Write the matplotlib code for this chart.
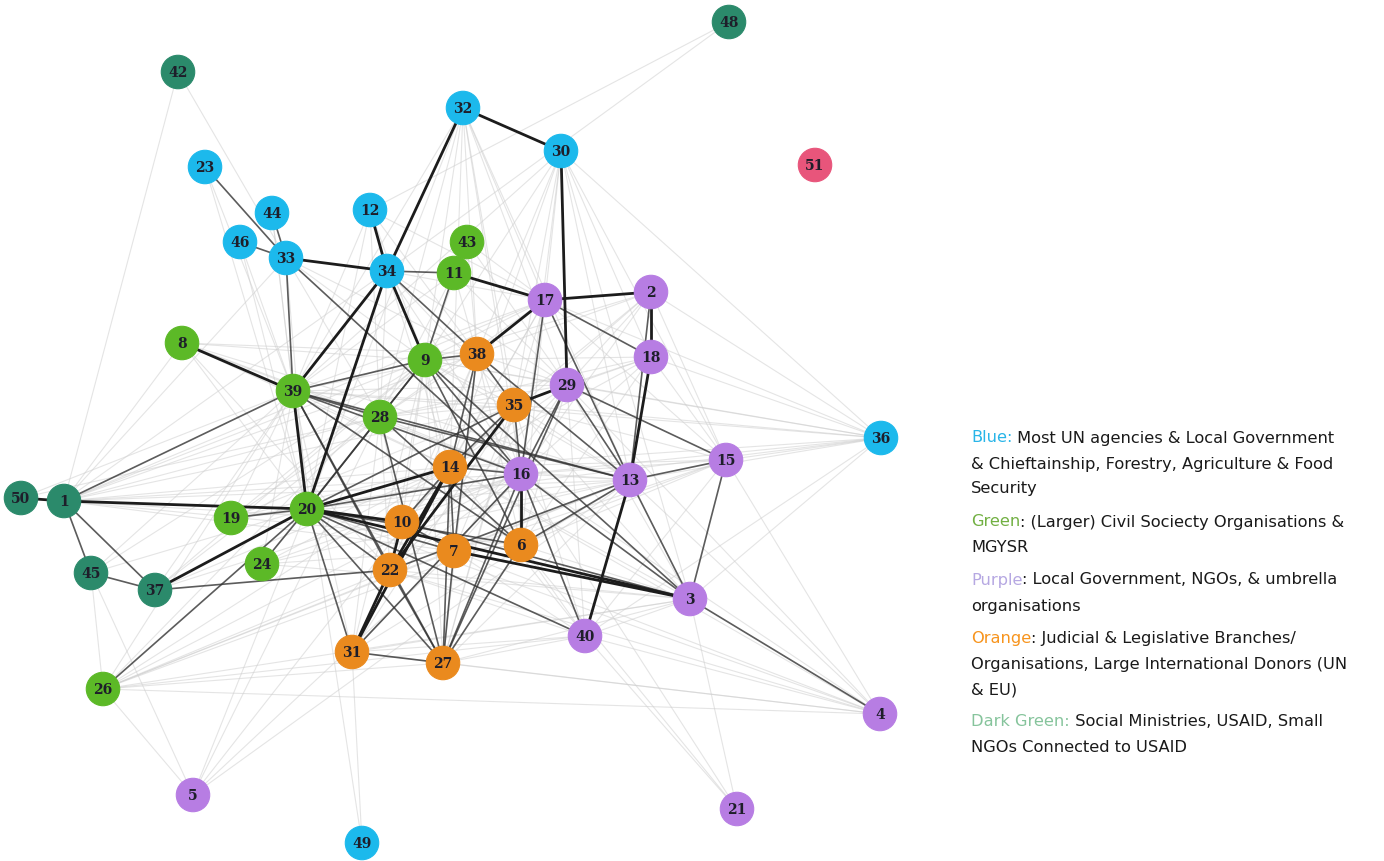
import matplotlib
matplotlib.use("Agg")
import matplotlib.pyplot as plt

# node data (pixel layout of the network drawing)
node_ids = [1, 2, 3, 4, 5, 6, 7, 8, 9, 10, 11, 12, 13, 14, 15, 16, 17, 18, 19, 20,
            21, 22, 23, 24, 26, 27, 28, 29, 30, 31, 32, 33, 34, 35, 36, 37, 38, 39,
            40, 42, 43, 44, 45, 46, 48, 49, 50, 51]
node_x = [64, 651, 690, 880, 193, 521, 454, 182, 425, 402, 454, 370, 630, 450, 726, 521, 545, 651, 231, 307,
          737, 390, 205, 262, 103, 443, 380, 567, 561, 352, 463, 286, 387, 514, 881, 155, 477, 293,
          585, 178, 467, 272, 91, 240, 729, 362, 21, 815]
node_y = [501, 292, 599, 714, 795, 545, 551, 343, 360, 522, 273, 210, 480, 467, 460, 474, 300, 357, 518, 509,
          809, 570, 167, 564, 689, 663, 417, 385, 151, 652, 108, 258, 271, 405, 438, 590, 354, 391,
          636, 72, 242, 213, 573, 242, 22, 843, 498, 165]
node_group = ["dkgreen", "purple", "purple", "purple", "purple", "orange", "orange", "green", "green", "orange",
              "green", "blue", "purple", "orange", "purple", "purple", "purple", "purple", "green", "green",
              "purple", "orange", "blue", "green", "green", "orange", "green", "purple", "blue", "orange",
              "blue", "blue", "blue", "orange", "blue", "dkgreen", "orange", "green",
              "purple", "dkgreen", "green", "blue", "dkgreen", "blue", "dkgreen", "blue", "dkgreen", "red"]

strong_edges = [(50, 1), (1, 20), (37, 20), (39, 20), (8, 39), (39, 34), (20, 34), (33, 34), (34, 12),
                (34, 32), (34, 9), (32, 30), (30, 29), (17, 2), (17, 38), (11, 17), (29, 35), (2, 18),
                (18, 13), (14, 22), (20, 14), (20, 10), (7, 3), (20, 3), (16, 6), (13, 40), (35, 22),
                (10, 22), (22, 31), (14, 31)]

mid_edges = [(1, 45), (1, 37), (45, 37), (1, 39), (37, 22), (26, 20), (24, 20), (19, 20), (39, 33),
             (33, 23), (33, 44), (33, 46), (33, 16), (34, 11), (34, 38), (11, 43), (11, 9), (17, 18),
             (17, 16), (17, 13), (2, 13), (29, 15), (29, 16), (29, 13), (35, 38), (35, 16), (35, 14),
             (15, 13), (15, 3), (13, 3), (13, 6), (28, 13), (16, 40), (16, 3), (16, 27), (14, 10),
             (14, 27), (14, 7), (9, 28), (9, 38), (9, 16), (9, 6), (10, 7), (22, 27), (7, 27),
             (31, 27), (3, 4), (20, 28), (20, 7), (20, 6), (20, 31), (20, 27), (20, 22), (20, 40),
             (20, 35), (39, 22), (39, 27), (39, 16), (39, 6), (39, 13), (38, 14), (38, 7), (28, 27),
             (13, 22), (16, 31), (10, 3), (20, 16), (39, 9), (39, 28), (6, 27), (29, 27), (9, 3),
             (38, 13), (28, 6), (20, 9), (14, 16)]

light_edges = [(42, 1), (42, 33), (48, 12), (48, 34),
               (36, 2), (36, 17), (36, 18), (36, 29), (36, 15), (36, 13), (36, 16), (36, 35),
               (36, 9), (36, 14), (36, 3), (36, 40), (36, 20), (36, 39),
               (4, 26), (4, 31), (4, 27), (4, 22), (4, 7), (4, 40), (4, 16), (4, 13), (4, 15),
               (4, 29), (4, 20), (4, 14),
               (21, 3), (21, 40), (21, 16), (21, 6),
               (5, 26), (5, 45), (5, 20), (5, 7), (5, 13), (5, 28), (5, 14),
               (49, 39), (49, 31),
               (26, 39), (26, 9), (26, 14), (26, 16), (26, 13), (26, 3), (26, 40), (26, 27),
               (26, 22), (26, 7), (26, 45), (26, 15),
               (1, 8), (1, 33), (1, 9), (1, 28), (1, 14), (1, 16), (1, 13), (1, 35), (1, 38),
               (1, 17), (1, 34), (1, 10), (1, 7), (1, 6), (50, 39), (50, 28),
               (45, 39), (45, 20), (45, 9), (37, 39), (37, 28), (37, 14), (37, 9), (37, 16),
               (8, 28), (8, 9), (8, 20), (8, 14), (8, 16), (8, 13), (8, 22), (8, 38),
               (32, 17), (32, 29), (32, 16), (32, 35), (32, 38), (32, 9), (32, 28), (32, 13),
               (32, 14), (32, 39), (32, 20),
               (30, 17), (30, 13), (30, 15), (30, 3), (30, 9), (30, 38), (30, 35), (30, 16),
               (30, 14), (30, 39), (30, 36), (30, 18),
               (12, 9), (12, 39), (12, 20), (12, 38), (12, 28), (12, 17),
               (23, 20), (23, 39), (44, 39), (44, 20), (46, 39), (46, 20),
               (43, 17), (43, 38), (43, 29), (43, 9),
               (2, 35), (2, 16), (2, 9), (2, 29), (2, 38), (2, 14), (2, 15),
               (18, 29), (18, 35), (18, 16), (18, 9), (18, 14), (18, 15), (18, 6), (18, 28),
               (15, 16), (15, 35), (15, 14), (15, 6), (15, 7), (15, 40), (15, 17),
               (3, 6), (3, 14), (3, 22), (3, 27), (3, 31), (3, 40), (3, 29), (3, 35),
               (40, 27), (40, 22), (40, 31), (40, 7), (40, 6), (40, 14), (40, 35), (40, 29),
               (24, 14), (24, 16), (24, 13), (24, 9), (24, 39), (24, 7), (24, 3),
               (19, 14), (19, 16), (19, 13), (19, 9), (19, 39), (19, 28), (19, 35),
               (31, 9), (31, 28), (31, 35), (31, 16), (31, 39), (31, 13),
               (27, 9), (27, 35), (27, 13), (27, 17), (27, 38),
               (22, 9), (22, 38), (22, 28), (22, 16), (22, 17), (22, 29),
               (10, 9), (10, 38), (10, 16), (10, 13), (10, 35), (10, 28),
               (7, 9), (7, 35), (7, 13), (7, 16), (7, 29), (7, 6),
               (6, 35), (6, 29), (6, 17), (6, 38), (14, 9), (14, 29), (14, 17), (14, 13),
               (28, 35), (28, 38), (28, 16), (28, 29), (28, 17), (9, 29), (9, 35), (9, 17),
               (9, 13), (38, 29), (38, 16), (35, 13), (34, 29), (34, 17), (34, 16), (34, 35),
               (34, 28), (34, 14), (33, 9), (33, 28), (33, 20), (33, 38), (11, 38), (11, 29),
               (11, 39), (11, 28), (39, 14), (39, 35), (39, 38), (39, 17), (39, 29), (16, 13)]

group_color = {"blue": "#1cb9ec", "green": "#5cb927", "purple": "#b77de3",
               "orange": "#ea8a1e", "dkgreen": "#2b8a6b", "red": "#e8557b"}

pos = {n: (x, y) for n, x, y in zip(node_ids, node_x, node_y)}

fig = plt.figure(figsize=(13.84, 8.61), dpi=100)
ax = fig.add_axes([0, 0, 1, 1])
ax.set_xlim(0, 1384)
ax.set_ylim(861, 0)
ax.axis("off")

# edges: faint ones first, dark on top
for a, b in light_edges:
    ax.plot([pos[a][0], pos[b][0]], [pos[a][1], pos[b][1]], color="#cfcfcf",
            lw=0.8, alpha=0.55, zorder=1)
for a, b in mid_edges:
    ax.plot([pos[a][0], pos[b][0]], [pos[a][1], pos[b][1]], color="#333333",
            lw=1.2, alpha=0.8, zorder=2)
for a, b in strong_edges:
    ax.plot([pos[a][0], pos[b][0]], [pos[a][1], pos[b][1]], color="#1c1c1c",
            lw=2.0, zorder=3)

# nodes
cols = [group_color[g] for g in node_group]
ax.scatter(node_x, node_y, s=580, c=cols, edgecolors=cols, linewidths=0.8, zorder=4)
for n, x, y in zip(node_ids, node_x, node_y):
    ax.text(x, y + 1, str(n), ha="center", va="center", fontsize=10,
            family="DejaVu Serif", fontweight="bold", color="#1e1e2a", zorder=5)

# legend text, coloured prefixes
lfont = "DejaVu Sans"
lsize = 11.7
legend_lines = [
    (438, "Blue:", "#29b5e8", " Most UN agencies & Local Government"),
    (464, "", None, "& Chieftainship, Forestry, Agriculture & Food"),
    (489, "", None, "Security"),
    (522, "Green", "#72b043", ": (Larger) Civil Sociecty Organisations &"),
    (547, "", None, "MGYSR"),
    (580, "Purple", "#b6a8e2", ": Local Government, NGOs, & umbrella"),
    (606, "", None, "organisations"),
    (638, "Orange", "#f7941d", ": Judicial & Legislative Branches/"),
    (664, "", None, "Organisations, Large International Donors (UN"),
    (690, "", None, "& EU)"),
    (722, "Dark Green:", "#86c49c", " Social Ministries, USAID, Small"),
    (748, "", None, "NGOs Connected to USAID"),
]
for y, head, col, rest in legend_lines:
    if head:
        t = ax.text(971, y, head, color=col, fontsize=lsize, family=lfont, va="center")
        ax.annotate(rest, xy=(1, 0.5), xycoords=t, va="center", ha="left",
                    fontsize=lsize, family=lfont, color="#1a1a1a")
    else:
        ax.text(971, y, rest, color="#1a1a1a", fontsize=lsize, family=lfont, va="center")

fig.savefig("out.png", dpi=100, facecolor="white")
